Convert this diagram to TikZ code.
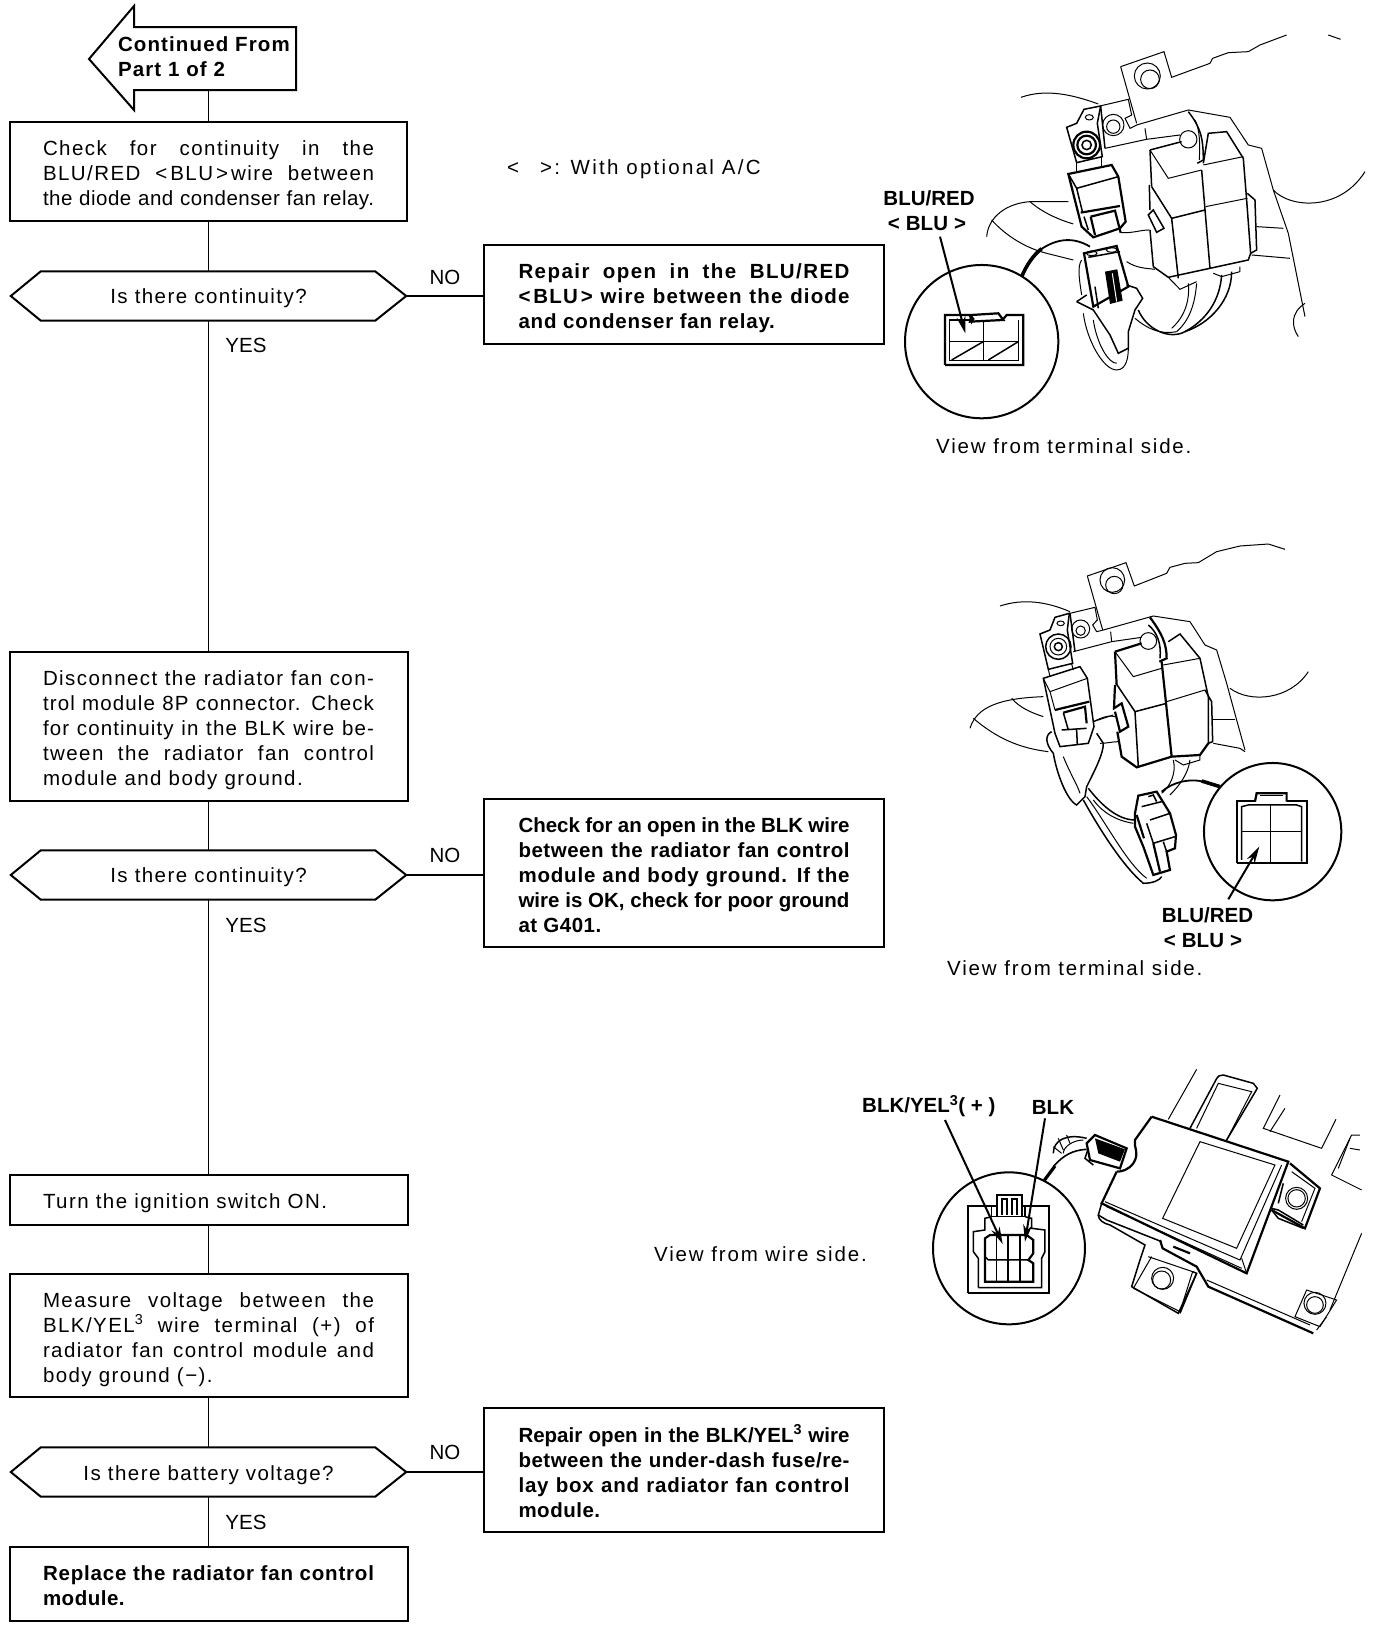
\documentclass[tikz,border=0pt]{standalone}
\usepackage{fontspec}
\setmainfont{Liberation Sans}
\newfontfamily\fsO{Liberation Sans}[LetterSpace=11]
\newfontfamily\fsL{Liberation Sans}[LetterSpace=9]
\newfontfamily\fsA{Liberation Sans}[LetterSpace=7]
\newfontfamily\fsB{Liberation Sans}[LetterSpace=5.5]
\newfontfamily\fsC{Liberation Sans}[LetterSpace=4]
\newfontfamily\fsD{Liberation Sans}[LetterSpace=2.5]
\newfontfamily\fsE{Liberation Sans}[LetterSpace=1]
\newfontfamily\fsZ{Liberation Sans}
\usetikzlibrary{arrows.meta}
\hbadness=10000 \hfuzz=4pt
\newlength\linew \setlength\linew{331pt}
\newif\iffound
\newcommand\tryf[2]{\iffound\else\setbox0\hbox{#1#2}\ifdim\wd0<\linew\foundtrue\let\fbest#1\fi\fi}
\newcommand\jl[1]{\foundfalse\let\fbest\fsZ\tryf\fsA{#1}\tryf\fsB{#1}\tryf\fsC{#1}\tryf\fsD{#1}\tryf\fsE{#1}\hbox to \linew{\fbest #1}}
\newcommand\lastl[1]{\hbox{\fsA #1}}
\newcommand\ang[1]{<\kern3pt #1\kern3pt>}
\newcommand\angw[1]{<\kern6pt #1\kern6pt>}
\newcommand\stk[2]{\vbox{\vskip#1 #2}}
\tikzset{
  x=1pt,y=-1pt,
  box/.style={draw,line width=2pt,inner sep=0pt,font=\fontsize{20.5}{25}\selectfont,text width=331pt,align=justify},
  boldbox/.style={box,font=\fontsize{20.5}{25}\selectfont\bfseries},
  dec/.style={inner sep=0pt,minimum width=395pt,minimum height=49pt,font=\fontsize{20.5}{25}\selectfont\fsA},
  shapeline/.style={line width=2pt},
  link/.style={line width=1.5pt},
  lab/.style={font=\fontsize{20.5}{25}\selectfont,inner sep=0pt},
  slab/.style={font=\fontsize{20.5}{25}\selectfont\fsL,inner sep=0pt},
  blab/.style={font=\fontsize{20.5}{25}\selectfont\bfseries,inner sep=0pt},
  thin1/.style={line width=1pt},
  med1/.style={line width=1.5pt},
  thick1/.style={line width=2.2pt},
  zoomA/.style={shift={(860,20)},x=0.3333pt,y=-0.3333pt},
  zoomB/.style={shift={(940,530)},x=0.3333pt,y=-0.3333pt},
  zoomC/.style={shift={(850,1060)},x=0.3333pt,y=-0.3333pt},
  lead/.style={line width=2pt,-{Stealth[length=17pt,width=9pt]}},
}
\newcommand{\decshape}[1]{\draw[shapeline] (#1.west)--([xshift=30pt]#1.north west)--([xshift=-31pt]#1.north east)--(#1.east)--([xshift=-31pt]#1.south east)--([xshift=30pt]#1.south west)--cycle;}
\begin{document}
\begin{tikzpicture}
\useasboundingbox (0,0) rectangle (1376,1630);
\fill[white] (0,0) rectangle (1376,1630);

% flow chart nodes
\node[inner sep=0pt,minimum height=67pt,text width=176pt,align=left,font=\fontsize{20.5}{25}\selectfont\bfseries\fsB] (cont) at (206,56.5) {Continued From\\Part 1 of 2};
\draw[shapeline] (296,27)--(134,27)--(134,6)--(89,59)--(134,110)--(134,90)--(296,90)--cycle;

\node[box,minimum width=397pt,minimum height=99pt] (b1) at (208.5,171.5) {\stk{8pt}{\jl{Check for continuity in the}\jl{BLU/RED \ang{BLU}\kern3pt wire between}\jl{the diode and condenser fan relay.}}};
\node[dec] (d1) at (208.5,296) {\rule{0pt}{19.5pt}Is there continuity?};
\decshape{d1}
\node[boldbox,minimum width=400pt,minimum height=99pt] (r1) at (684,294.5) {\stk{8pt}{\jl{Repair open in the BLU/RED}\jl{\ang{BLU} wire between the diode}\hbox{\fsC and condenser fan relay.}}};

\node[box,minimum width=398pt,minimum height=149pt] (b2) at (208.5,726) {\stk{8pt}{\jl{Disconnect the radiator fan con-}\jl{trol module 8P connector. Check}\jl{for continuity in the BLK wire be-}\jl{tween the radiator fan control}\lastl{module and body ground.}}};
\node[dec] (d2) at (208.5,875) {\rule{0pt}{19.5pt}Is there continuity?};
\decshape{d2}
\node[boldbox,minimum width=400pt,minimum height=148pt] (r2) at (684,873) {\stk{4pt}{\jl{Check for an open in the BLK wire}\jl{between the radiator fan control}\jl{module and body ground. If the}\jl{wire is OK, check for poor ground}\hbox{\fsD at G401.}}};

\node[box,minimum width=398pt,minimum height=50pt] (b3) at (208.5,1199.5) {\stk{8pt}{\lastl{Turn the ignition switch ON.}}};
\node[box,minimum width=398pt,minimum height=123pt] (b4) at (208.5,1335.5) {\stk{8pt}{\jl{Measure voltage between the}\jl{BLK/YEL\textsuperscript{3} wire terminal (+) of}\jl{radiator fan control module and}\lastl{body ground (−).}}};
\node[dec] (d3) at (208.5,1472) {\rule{0pt}{21.5pt}Is there battery voltage?};
\decshape{d3}
\node[boldbox,minimum width=400pt,minimum height=124pt] (r3) at (684,1470) {\stk{2pt}{\jl{Repair open in the BLK/YEL\textsuperscript{3} wire}\jl{between the under-dash fuse/re-}\jl{lay box and radiator fan control}\hbox{\fsD module.}}};
\node[boldbox,minimum width=398pt,minimum height=74pt] (b5) at (208.5,1584) {\stk{4pt}{\jl{Replace the radiator fan control}\hbox{\fsD module.}}};

% connectors
\draw[link] (cont.south -| b1.north)--(b1.north);
\draw[link] (b1.south)--(d1.north);
\draw[link] (d1.south)--(b2.north);
\draw[link] (b2.south)--(d2.north);
\draw[link] (d2.south)--(b3.north);
\draw[link] (b3.south)--(b4.north);
\draw[link] (b4.south)--(d3.north);
\draw[link] (d3.south)--(b5.north);
\draw[link] (d1.east)--(r1.west |- d1.east);
\draw[link] (d2.east)--(r2.west |- d2.east);
\draw[link] (d3.east)--(r3.west |- d3.east);

% flow labels
\node[lab] (no1) at (445,277) {NO};
\node[lab] (yes1) at (246,345) {YES};
\node[lab] (no2) at (445,855) {NO};
\node[lab] (yes2) at (246,925) {YES};
\node[lab] (no3) at (445,1452) {NO};
\node[lab] (yes3) at (246,1522) {YES};
\node[slab,anchor=west,font=\fontsize{20.5}{25}\selectfont\fsO] (opt) at (507,169) {{<}\hspace{21pt}{>}: With optional A/C};
\node[slab,anchor=west] (wside) at (654,1254) {View from wire side.};

% ===== illustration 1 =====
\node[blab] (l1a) at (929,198) {BLU/RED};
\node[blab] (l1b) at (927,224) {\angw{BLU}};
\node[slab,anchor=west] (v1) at (936,446) {View from terminal side.};
\begin{scope}[zoomA]
\draw[thin1] (782,140)--(912,95)--(935,172)--(1050,130)--(1058,115)--(1105,98)--(1165,95)--(1200,75)--(1280,45);
\draw[thin1] (782,140)--(830,310);
\draw[thin1] (1405,45)--(1442,58);
\draw[thin1] (862,168) circle[radius=39];
\draw[thin1] (870,178) circle[radius=28];
\draw[thin1] (483,232) .. controls (560,205) and (640,225) .. (715,252);
\draw[thin1] (720,258)--(805,238)--(815,285)--(795,295)--(810,325)--(830,315)--(985,270)--(1110,292)--(1165,375)--(1205,385)--(1240,510)--(1285,640)--(1335,890);
\draw[thin1] (735,385)--(860,358)--(960,345);
\draw[thin1] (855,325)--(860,358);
\draw[thin1] (760,315) circle[radius=32];
\draw[thin1] (760,320) circle[radius=20];
% bolt mount
\draw[med1] (620,322)--(650,310)--(672,268)--(722,258)--(712,310)--(727,410)--(650,428)--cycle;
\draw[med1] (722,258)--(735,385);
\draw[thin1] (688,292) ellipse[x radius=12,y radius=8];
\draw[thick1] (680,375) circle[radius=40];
\draw[thick1] (680,375) circle[radius=28];
\draw[med1] (680,375) circle[radius=14];
\draw[thin1] (650,428)--(650,452);
\draw[thin1] (725,412)--(725,438);
% diode
\draw[thick1] (625,462)--(755,435)--(775,470)--(797,605)--(780,625)--(700,652)--(665,620)--cycle;
\draw[med1] (650,505)--(775,470);
\draw[med1] (625,462)--(650,505)--(668,578);
\draw[thick1] (662,578)--(780,558);
\draw[thick1] (692,590)--(765,572)--(782,638);
\draw[thick1] (692,590)--(705,645);
\draw[med1] (672,590)--(685,630);
% wires
\draw[thin1] (380,650) .. controls (385,590) and (440,550) .. (510,545)--(625,545);
\draw[thin1] (395,600) .. controls (440,650) and (500,685) .. (560,700)--(640,720);
\draw[thin1] (510,545) .. controls (550,580) and (600,600) .. (640,612);
\draw[thin1] (782,638) .. controls (820,640) and (840,630) .. (868,630);
\draw[thin1] (800,725) .. controls (830,745) and (860,745) .. (885,748);
% relays
\draw[med1] (870,390)--(965,365);
\draw[med1] (870,390)--(875,500);
\draw[thin1] (870,390)--(925,475)--(1025,450);
\draw[med1] (875,500)--(935,595)--(1035,570);
\draw[med1] (1025,450)--(1050,745);
\draw[med1] (868,495)--(870,570);
\draw[med1] (865,585)--(880,570)--(912,625)--(890,637)--cycle;
\draw[med1] (935,595)--(955,775);
\draw[med1] (870,630)--(880,740)--(925,772)--(1050,745)--(1165,720)--(1172,700);
\draw[med1] (1172,700)--(1160,540)--(1150,415)--(1100,335)--(1045,340)--(1030,430);
\draw[thin1] (1030,435)--(1150,410);
\draw[thin1] (1037,560)--(1162,535);
\draw[med1] (1162,520)--(1185,540)--(1190,690)--(1172,700);
\draw[thin1] (985,358) circle[radius=26];
\draw[med1] (985,275) .. controls (1020,320) and (1030,350) .. (1030,420)--(1012,430);
\draw[thin1] (1005,300) .. controls (1020,330) and (1020,370) .. (1018,420);
% right side wires
\draw[thin1] (1240,510) .. controls (1290,565) and (1440,575) .. (1515,455);
\draw[thin1] (1190,620)--(1270,625);
\draw[thin1] (1175,705)--(1290,715);
\draw[thin1] (1335,850) .. controls (1290,880) and (1295,920) .. (1315,950);
% lower connector
\draw[thick1] (672,700)--(770,678)--(805,800)--(700,860)--cycle;
\draw[med1] (685,712)--(780,695);
\draw[thin1] (695,700) ellipse[x radius=16,y radius=7];
\draw[thin1] (755,690) ellipse[x radius=16,y radius=7];
\fill (735,755)--(772,748)--(788,842)--(750,852)--cycle;
\draw[white,thin1] (757,760)--(770,845);
\draw[med1] (705,800)--(715,865);
\draw[med1] (650,845)--(680,825);
\draw[med1] (800,795)--(830,805)--(848,835)--(825,870)--(805,935)--(805,985)--(775,1000)--(750,945)--(700,870)--(650,845);
\draw[thin1] (670,880) .. controls (680,960) and (730,1050) .. (770,1050) .. controls (800,1050) and (805,1010) .. (805,985);
\draw[thin1] (700,900) .. controls (710,970) and (745,1030) .. (770,1030);
\draw[thin1] (665,720) .. controls (650,740) and (660,790) .. (665,825);
% harness
\draw[med1] (835,870) .. controls (860,930) and (930,960) .. (975,935) .. controls (1040,900) and (1080,840) .. (1085,765);
\draw[thin1] (825,895) .. controls (860,925) and (900,945) .. (950,935);
\draw[med1] (1115,755) .. controls (1115,840) and (1050,910) .. (975,935);
\draw[thin1] (1010,790) .. controls (1005,850) and (990,900) .. (950,935);
\draw[thin1] (985,790) .. controls (990,840) and (975,890) .. (935,925);
\draw[thin1] (1060,760)--(1085,770)--(1140,755)--(1140,740);
\draw[thin1] (925,772)--(960,808)--(1010,785);
% thick wire
\draw[line width=1.8pt] (540,690) .. controls (590,655) and (640,650) .. (690,680);
\draw[line width=3.6pt] (485,770) .. controls (500,735) and (520,705) .. (545,686);
% inset
\draw[line width=2pt,fill=white] (365,965) circle[radius=230];
\draw[thick1] (255,1035)--(255,885)--(330,885)--(340,897)--(335,905)--(330,885);
\draw[thick1] (255,1035)--(490,1035)--(490,885)--(440,885)--(430,897);
\draw[thick1] (335,885)--(415,880)--(430,900)--(330,905)--cycle;
\draw[med1] (268,925)--(268,1022)--(475,1022)--(475,900);
\draw[med1] (268,925)--(268,900)--(330,900);
\draw[med1] (268,965)--(475,965);
\draw[med1] (370,905)--(370,1022);
\draw[med1] (275,1020)--(370,965);
\draw[med1] (385,1020)--(475,965);
\coordinate (a1s) at (240,650);
\coordinate (a1e) at (316,940);
\end{scope}
\draw[lead] (a1s)--(a1e);

% ===== illustration 2 =====
\node[blab] (l2a) at (1207.5,915) {BLU/RED};
\node[blab] (l2b) at (1203,941) {\angw{BLU}};
\node[slab,anchor=west] (v2) at (947,968) {View from terminal side.};
\begin{scope}[zoomB]
\draw[thin1] (442,138)--(558,98)--(583,168)--(680,130)--(690,112)--(735,100)--(775,98)--(830,65)--(900,48)--(985,42)--(1035,58);
\draw[thin1] (442,138)--(488,300);
\draw[thin1] (517,150) circle[radius=37];
\draw[thin1] (523,165) circle[radius=26];
\draw[thin1] (180,228) .. controls (250,205) and (320,215) .. (390,245);
\draw[thin1] (390,250)--(465,232)--(472,270)--(458,285)--(470,305)--(490,300)--(640,258)--(750,275)--(795,345)--(830,360)--(860,460)--(890,570)--(915,660);
\draw[thin1] (400,365)--(515,335)--(605,322);
\draw[thin1] (512,305)--(515,335);
\draw[med1] (390,250)--(405,365);
\draw[thin1] (422,297) circle[radius=27];
\draw[thin1] (422,302) circle[radius=14];
\draw[med1] (300,312)--(330,300)--(345,262)--(388,250)--(382,300)--(398,400)--(325,418)--cycle;
\draw[thin1] (362,280) ellipse[x radius=11,y radius=7];
\draw[med1] (355,350) circle[radius=38];
\draw[thin1] (355,350) circle[radius=25];
\draw[med1] (355,350) circle[radius=12];
\draw[thin1] (325,418)--(330,440);
\draw[thin1] (395,402)--(400,420);
% diode
\draw[med1] (310,445)--(420,410)--(442,445)--(462,590)--(445,640)--(360,650)--(345,610)--cycle;
\draw[thin1] (330,485)--(442,445);
\draw[thin1] (310,445)--(330,485)--(345,540);
\draw[thick1] (345,540)--(448,515);
\draw[thick1] (370,548)--(435,530)--(440,580);
\draw[med1] (370,548)--(385,600);
\draw[med1] (365,600)--(440,595);
\draw[med1] (410,600)--(412,645);
% wires
\draw[thin1] (90,595) .. controls (110,530) and (180,505) .. (310,500);
\draw[thin1] (100,565) .. controls (170,625) and (240,655) .. (325,665);
\draw[thin1] (215,505) .. controls (240,535) and (280,550) .. (310,560);
\draw[thin1] (460,575) .. controls (490,560) and (510,555) .. (525,560);
\draw[thin1] (480,640) .. controls (500,640) and (520,635) .. (535,635);
% relays
\draw[thick1] (525,365)--(605,340);
\draw[thick1] (525,365)--(530,465);
\draw[thin1] (525,365)--(580,440)--(665,415);
\draw[med1] (528,460)--(585,545)--(680,520);
\draw[thick1] (665,395)--(695,680);
\draw[thick1] (525,465)--(522,535)--(545,520)--(565,590)--(540,605)--(525,545);
\draw[thick1] (532,605)--(545,680)--(590,712)--(695,680)--(780,675)--(805,640);
\draw[med1] (585,545)--(595,710);
\draw[med1] (685,335)--(720,312)--(780,385)--(805,500);
\draw[thin1] (670,405)--(780,385);
\draw[thin1] (680,515)--(795,480);
\draw[med1] (795,480)--(815,515)--(818,635)--(805,640)--(805,500);
\draw[thin1] (625,333) circle[radius=25];
\draw[thick1] (630,262) .. controls (665,310) and (680,340) .. (680,385)--(658,395);
\draw[med1] (625,285) .. controls (650,305) and (665,340) .. (660,385);
% right wires
\draw[thin1] (870,475) .. controls (930,520) and (1050,510) .. (1105,425);
\draw[thin1] (815,570)--(885,570);
\draw[thin1] (820,640)--(900,655)--(915,665);
\draw[thin1] (460,575) -- (520,555);
% boot and harness
\draw[med1] (335,605) .. controls (315,615) and (315,640) .. (340,670) .. controls (350,730) and (380,810) .. (410,825) -- (435,800) -- (440,770) .. controls (470,710) and (490,670) .. (490,640) -- (470,610);
\draw[thin1] (370,680) .. controls (390,730) and (410,760) .. (420,790);
\draw[med1] (430,810) .. controls (480,900) and (550,1010) .. (610,1060) .. controls (640,1060) and (660,1050) .. (665,1040);
\draw[med1] (445,775) .. controls (480,820) and (530,870) .. (585,870);
\draw[thin1] (440,800) .. controls (500,880) and (560,1000) .. (620,1045);
\draw[thin1] (460,810) .. controls (490,850) and (530,872) .. (580,880);
\draw[thin1] (700,690) .. controls (710,730) and (690,770) .. (665,790);
\draw[thin1] (750,690) .. controls (745,730) and (720,765) .. (690,795);
\draw[thin1] (705,690)--(730,705)--(780,690)--(780,675);
% lower connector
\draw[thick1] (595,797)--(650,785)--(690,850)--(708,915)--(705,955)--(680,965)--(690,1020)--(640,1035)--(610,950)--(585,890)--(585,850)--cycle;
\draw[med1] (605,830)--(665,815);
\draw[med1] (625,800)--(640,795)--(650,815);
\draw[med1] (630,870)--(690,850);
\draw[med1] (620,880)--(640,940)--(705,920);
\draw[thick1] (640,940)--(660,1025);
\draw[med1] (670,935)--(680,965);
\draw[thick1] (590,855)--(612,925);
\draw[line width=1.8pt] (665,785) .. controls (700,755) and (750,745) .. (790,755);
\draw[line width=3.6pt] (785,753)--(840,770);
% inset
\draw[line width=2pt,fill=white] (998,905) circle[radius=206];
\draw[thick1] (890,1000)--(890,812)--(945,812);
\draw[thick1] (945,815)--(950,790)--(1040,790)--(1040,815);
\draw[med1] (960,797)--(1030,797);
\draw[thick1] (890,1000)--(1100,1000)--(1100,812)--(1040,812);
\draw[med1] (905,990)--(905,830)--(925,825)--(1000,825)--(1070,825)--(1085,830)--(1085,995);
\draw[med1] (905,905)--(1085,905);
\draw[med1] (992,825)--(992,998);
\coordinate (a2s) at (865,1108);
\coordinate (a2e) at (958,950);
\end{scope}
\draw[lead] (a2s)--(a2e);

% ===== illustration 3 =====
\node[blab,anchor=west] (l3a) at (862,1106) {BLK/YEL\textsuperscript{3}( + )};
\node[blab] (l3b) at (1053,1107) {BLK};
\begin{scope}[zoomC]
% plate outline
\draw[thin1] (1040,28)--(955,178);
\draw[med1] (1020,205)--(1095,65) .. controls (1105,45) and (1110,45) .. (1120,45)--(1210,70)--(1222,85)--(1130,240);
\draw[thin1] (1040,205)--(1105,70)--(1205,95)--(1130,240);
\draw[thin1] (1290,105)--(1240,205)--(1415,265)--(1458,178);
\draw[thin1] (1305,145)--(1260,215);
\draw[thin1] (1530,225)--(1505,225)--(1445,345)--(1535,390);
\draw[thin1] (1500,235)--(1465,325);
\draw[thin1] (1500,265)--(1530,270);
\draw[thin1] (1535,520)--(1440,750);
\draw[thin1] (1430,770)--(1400,810);
% module
\draw[thick1] (905,170)--(1315,305)--(1190,640)--(755,430)--(800,335);
\draw[thick1] (905,170)--(855,240) .. controls (850,260) and (870,280) .. (850,310) .. controls (835,330) and (815,335) .. (800,335);
\draw[med1] (755,430)--(745,465)--(770,480)--(935,545);
\draw[med1] (745,465) .. controls (745,480) and (760,490) .. (780,495)--(885,555)--(870,600)--(845,680)--(985,760)--(1040,640);
\draw[thin1] (765,425)--(1170,600)--(1295,315);
\draw[thin1] (770,440)--(1175,625);
\draw[thin1] (1190,640)--(1175,595);
\draw[thin1] (1050,245)--(1275,315)--(1160,565)--(938,475)--cycle;
% tabs
\draw[thick1] (1320,310)--(1410,385)--(1365,505)--(1265,450);
\draw[thin1] (1325,335)--(1395,385)--(1355,485);
\draw[med1] (1265,445)--(1285,450)--(1360,495);
\draw[med1] (1265,450)--(1285,475)--(1360,505);
\draw[med1] (1300,370)--(1285,430);
\draw[thin1] (1340,415) circle[radius=33];
\draw[thin1] (1340,415) circle[radius=26];
% lower tab
\draw[thin1] (895,590)--(1028,635)--(990,755)--(850,685);
\draw[thin1] (905,590)--(850,685);
\draw[med1] (1028,635)--(1040,640)--(990,760);
\draw[thin1] (938,655) circle[radius=33];
\draw[thin1] (935,660) circle[radius=27];
\draw[thick1] (930,540)--(938,565)--(1040,620)--(1075,680)--(1390,820);
\draw[thin1] (1070,660)--(1380,795);
\draw[thick1] (970,560)--(1020,580);
\draw[thin1] (1370,690)--(1460,720)--(1410,800)--(1335,770)--cycle;
\draw[thin1] (1395,730) circle[radius=33];
\draw[thin1] (1395,735) circle[radius=25];
% connector at module
\draw[thick1] (710,250)--(735,225)--(830,265)--(810,325)--(720,300)--cycle;
\fill (735,235)--(825,268)--(810,305)--(745,280)--cycle;
\draw[med1] (715,265)--(705,295)--(730,315);
\draw[med1] (610,280) .. controls (610,240) and (650,220) .. (710,235);
\draw[thin1] (640,280) .. controls (640,260) and (670,240) .. (700,240);
\draw[thin1] (625,235)--(640,270);
\draw[thin1] (650,225)--(660,250);
\draw[thin1] (610,260)--(635,280);
% wire
\draw[line width=1.6pt] (610,320) .. controls (640,285) and (670,270) .. (710,268);
\draw[line width=3.2pt] (580,365)--(615,318);
% inset
\draw[line width=2pt,fill=white] (477,565) circle[radius=228];
\draw[thick1] (355,700)--(355,438)--(440,438);
\draw[thick1] (355,700)--(597,700)--(597,438)--(515,438);
\draw[thick1] (440,470)--(440,405)--(515,405)--(515,470);
\draw[thick1] (455,465)--(455,418)--(470,418)--(470,465);
\draw[thick1] (485,465)--(485,418)--(500,418)--(500,465);
\draw[med1] (425,440)--(425,470)--(525,470)--(525,440);
\draw[med1] (385,683)--(385,595)--(370,575)--(370,515)--(405,510)--(405,475)--(425,470);
\draw[med1] (385,683)--(575,683)--(575,595)--(585,575)--(585,510)--(545,505)--(545,475)--(525,470);
\draw[thick1] (405,665)--(405,535)--(420,525)--(530,525)--(550,540)--(550,580)--(535,600)--(550,610)--(550,665)--cycle;
\draw[med1] (405,590)--(415,600)--(535,600);
\draw[med1] (440,525)--(440,665);
\draw[thick1] (475,525)--(475,665);
\draw[med1] (510,525)--(510,665);
\coordinate (a3s) at (285,180);
\coordinate (a3e) at (458,552);
\coordinate (a4s) at (585,175);
\coordinate (a4e) at (525,545);
\end{scope}
\draw[lead] (a3s)--(a3e);
\draw[lead] (a4s)--(a4e);
\end{tikzpicture}
\end{document}
